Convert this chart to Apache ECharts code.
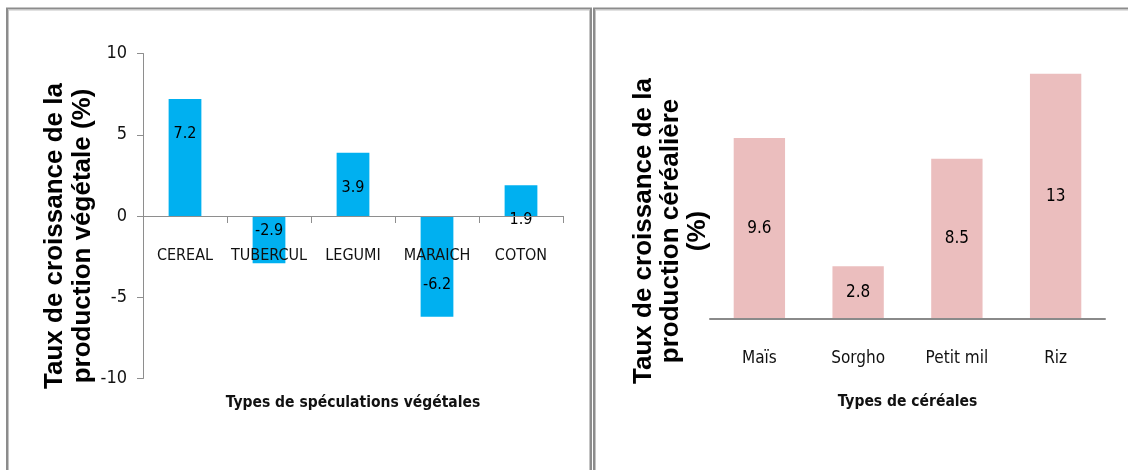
<!DOCTYPE html>
<html>
<head>
<meta charset="utf-8">
<script src="https://cdn.jsdelivr.net/npm/echarts@6/dist/echarts.min.js"></script>
<style>
html,body{margin:0;padding:0;background:#fff;}
#chart{width:1128px;height:470px;}
</style>
</head>
<body>
<div id="chart"></div>
<script>
// ---- Data ----
const vegCategories = ['CEREAL', 'TUBERCUL', 'LEGUMI', 'MARAICH', 'COTON'];
const vegValues = [7.2, -2.9, 3.9, -6.2, 1.9];
const vegTicks = [-10, -5, 0, 5, 10];

const cerCategories = ['Maïs', 'Sorgho', 'Petit mil', 'Riz'];
const cerValues = [9.6, 2.8, 8.5, 13];

const leftYTitle = 'Taux de croissance de la\nproduction végétale (%)';
const leftXTitle = 'Types de spéculations végétales';
const rightYTitle = 'Taux de croissance de la\nproduction céréalière\n(%)';
const rightXTitle = 'Types de céréales';

// ---- Styles ----
const NARROW = "'DejaVu Sans Condensed', 'Liberation Sans Narrow', sans-serif";
const BOLD = "'Liberation Sans', Arial, sans-serif";
const blue = '#00B0F0';
const pink = '#EBBEBE';

const chart = echarts.init(document.getElementById('chart'), null, {renderer: 'canvas'});

const vegData = vegValues.map(v => ({
  value: v,
  label: {
    position: v >= 0 ? 'insideTop' : 'insideBottom',
    distance: v >= 0 ? 27 : 24
  }
}));

const option = {
  backgroundColor: '#ffffff',
  animation: false,
  graphic: [
    {type: 'rect', shape: {x: 7, y: 8.5, width: 584, height: 480}, style: {fill: 'none', stroke: '#8c8c8c', lineWidth: 2}, silent: true, z: 100},
    {type: 'rect', shape: {x: 8.5, y: 10, width: 581, height: 480}, style: {fill: 'none', stroke: '#c4c4c4', lineWidth: 1}, silent: true, z: 100},
    {type: 'rect', shape: {x: 594, y: 8.5, width: 560, height: 480}, style: {fill: 'none', stroke: '#8c8c8c', lineWidth: 2}, silent: true, z: 100},
    {type: 'rect', shape: {x: 595.5, y: 10, width: 560, height: 480}, style: {fill: 'none', stroke: '#c4c4c4', lineWidth: 1}, silent: true, z: 100}
  ],
  grid: [
    {left: 143, top: 53.5, width: 420, height: 325, containLabel: false, outerBoundsMode: 'none'},
    {left: 710, top: 55, width: 395, height: 264, containLabel: false, outerBoundsMode: 'none'}
  ],
  xAxis: [
    {
      type: 'category', gridIndex: 0, data: vegCategories, z: 5,
      axisLine: {onZero: true, lineStyle: {color: '#8e8e8e', width: 1}},
      axisTick: {show: true, alignWithLabel: false, length: 7, lineStyle: {color: '#8e8e8e'}},
      axisLabel: {interval: 0, hideOverlap: false, margin: -131, fontFamily: NARROW, fontSize: 16, color: '#111'},
      name: leftXTitle, nameLocation: 'middle', nameGap: 16,
      nameTextStyle: {fontFamily: NARROW, fontSize: 15.5, fontWeight: 'bold', color: '#111'}
    },
    {
      type: 'category', gridIndex: 1, data: cerCategories, z: 5,
      axisLine: {lineStyle: {color: '#8a8a8a', width: 2}},
      axisTick: {show: false},
      axisLabel: {interval: 0, margin: 31, fontFamily: NARROW, fontSize: 17, color: '#111'},
      name: rightXTitle, nameLocation: 'middle', nameGap: 75,
      nameTextStyle: {fontFamily: NARROW, fontSize: 15.5, fontWeight: 'bold', color: '#111'}
    }
  ],
  yAxis: [
    {
      type: 'value', gridIndex: 0, min: vegTicks[0], max: vegTicks[vegTicks.length - 1], interval: 5,
      axisLine: {show: true, lineStyle: {color: '#8e8e8e'}},
      axisTick: {show: true, length: 6, lineStyle: {color: '#8e8e8e'}},
      axisLabel: {margin: 16, fontFamily: NARROW, fontSize: 18, color: '#111'},
      splitLine: {show: false},
      name: leftYTitle, nameLocation: 'middle', nameRotate: 90, nameGap: 46,
      nameTextStyle: {fontFamily: BOLD, fontSize: 26, fontWeight: 'bold', color: '#000', lineHeight: 28, padding: [0, 40, 0, 0]}
    },
    {
      type: 'value', gridIndex: 1, min: 0, max: 14,
      axisLine: {show: false}, axisTick: {show: false}, axisLabel: {show: false},
      splitLine: {show: false},
      name: rightYTitle, nameLocation: 'middle', nameRotate: 90, nameGap: -1,
      nameTextStyle: {fontFamily: BOLD, fontSize: 26, fontWeight: 'bold', color: '#000', lineHeight: 27, padding: [0, 88, 0, 0]}
    }
  ],
  series: [
    {
      type: 'bar', xAxisIndex: 0, yAxisIndex: 0, data: vegData,
      barWidth: '39%',
      itemStyle: {color: blue},
      label: {show: true, fontFamily: NARROW, fontSize: 16, color: '#000'}
    },
    {
      type: 'bar', xAxisIndex: 1, yAxisIndex: 1, data: cerValues,
      barWidth: '52%',
      itemStyle: {color: pink},
      label: {show: true, position: 'inside', fontFamily: NARROW, fontSize: 17, color: '#000'}
    }
  ]
};
chart.setOption(option);
</script>
</body>
</html>
